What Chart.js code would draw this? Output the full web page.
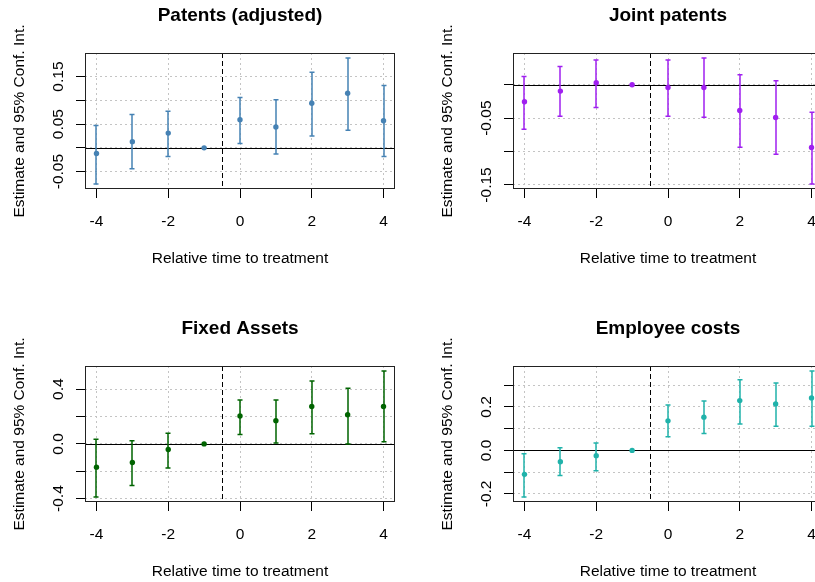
<!DOCTYPE html>
<html>
<head>
<meta charset="utf-8">
<script src="https://cdn.jsdelivr.net/npm/chart.js@4.4.1/dist/chart.umd.min.js"></script>
<style>
  html, body { margin: 0; padding: 0; background: #fff; }
  #wrap { position: relative; width: 815px; height: 582px; overflow: hidden; }
  #wrap canvas { position: absolute; }
</style>
</head>
<body>
<div id="wrap">
  <canvas id="c1" width="428" height="313" style="left:0;top:0"></canvas>
  <canvas id="c2" width="428" height="313" style="left:428px;top:0"></canvas>
  <canvas id="c3" width="428" height="313" style="left:0;top:313px"></canvas>
  <canvas id="c4" width="428" height="313" style="left:428px;top:313px"></canvas>
</div>
<script>
// relative time to treatment
var relTime = [-4, -3, -2, -1, 0, 1, 2, 3, 4];
var xTicks = [-4, -2, 0, 2, 4];
var xTickLabels = ['-4', '-2', '0', '2', '4'];

// Patents (adjusted)
var patEst = [-0.012, 0.013, 0.031, 0, 0.059, 0.044, 0.094, 0.115, 0.057];
var patLo  = [-0.076, -0.044, -0.018, 0, 0.009, -0.013, 0.025, 0.037, -0.018];
var patHi  = [0.047, 0.070, 0.077, 0, 0.106, 0.101, 0.159, 0.189, 0.131];
var patTicks = [-0.05, 0, 0.05, 0.10, 0.15];
var patTickLabels = ['-0.05', '', '0.05', '', '0.15'];

// Joint patents
var jointEst = [-0.0255, -0.0095, 0.003, 0, -0.004, -0.004, -0.0385, -0.049, -0.094];
var jointLo  = [-0.0665, -0.047, -0.034, 0, -0.047, -0.0485, -0.0935, -0.104, -0.1485];
var jointHi  = [0.0125, 0.0275, 0.037, 0, 0.037, 0.040, 0.015, 0.006, -0.041];
var jointTicks = [-0.15, -0.10, -0.05, 0];
var jointTickLabels = ['-0.15', '', '-0.05', ''];

// Fixed Assets
var fixEst = [-0.170, -0.136, -0.041, 0, 0.204, 0.170, 0.274, 0.213, 0.274];
var fixLo  = [-0.388, -0.305, -0.177, 0, 0.068, 0.007, 0.075, 0.0, 0.015];
var fixHi  = [0.034, 0.024, 0.078, 0, 0.322, 0.322, 0.461, 0.407, 0.533];
var fixTicks = [-0.4, -0.2, 0, 0.2, 0.4];
var fixTickLabels = ['-0.4', '', '0.0', '', '0.4'];

// Employee costs
var empEst = [-0.110, -0.052, -0.024, 0, 0.136, 0.153, 0.229, 0.214, 0.241];
var empLo  = [-0.214, -0.115, -0.093, 0, 0.063, 0.078, 0.122, 0.111, 0.111];
var empHi  = [-0.015, 0.012, 0.034, 0, 0.209, 0.227, 0.325, 0.310, 0.365];
var empTicks = [-0.2, -0.1, 0, 0.1, 0.2, 0.3];
var empTickLabels = ['-0.2', '', '0.0', '', '0.2', ''];

var FONT = "'Liberation Sans', Arial, sans-serif";
var xLab = 'Relative time to treatment';
var yLab = 'Estimate and 95% Conf. Int.';

// r-style axis range, 4% on each side
function rRange(lo, hi) {
    var mn = Math.min.apply(null, lo), mx = Math.max.apply(null, hi);
    var pad = (mx - mn) * 0.04;
    return [mn - pad, mx + pad];
}

function rPlot(p) {
    return {
        id: 'rPlot',
        beforeDatasetsDraw: function (chart) {
            var ctx = chart.ctx, a = chart.chartArea;
            var x = chart.scales.x, y = chart.scales.y;
            ctx.save();
            ctx.beginPath();
            ctx.rect(a.left, a.top, a.right - a.left, a.bottom - a.top);
            ctx.clip();
            // h = 0
            ctx.strokeStyle = '#000';
            ctx.lineWidth = 1;
            var y0 = Math.round(y.getPixelForValue(0)) + 0.5;
            ctx.beginPath();
            ctx.moveTo(a.left, y0);
            ctx.lineTo(a.right, y0);
            ctx.stroke();
            // v = -0.5
            var xv = Math.round(x.getPixelForValue(-0.5)) + 0.5;
            ctx.setLineDash([5, 3]);
            ctx.beginPath();
            ctx.moveTo(xv, a.top);
            ctx.lineTo(xv, a.bottom);
            ctx.stroke();
            ctx.setLineDash([]);
            // error bars
            ctx.strokeStyle = p.color;
            ctx.lineWidth = 1.5;
            relTime.forEach(function (t, i) {
                if (p.lo[i] === p.hi[i]) return;
                var px = Math.round(x.getPixelForValue(t));
                var yl = y.getPixelForValue(p.lo[i]);
                var yh = y.getPixelForValue(p.hi[i]);
                ctx.beginPath();
                ctx.moveTo(px, yl); ctx.lineTo(px, yh);
                ctx.moveTo(px - 2.5, yl); ctx.lineTo(px + 2.5, yl);
                ctx.moveTo(px - 2.5, yh); ctx.lineTo(px + 2.5, yh);
                ctx.stroke();
            });
            ctx.restore();
        },
        afterDraw: function (chart) {
            var ctx = chart.ctx, a = chart.chartArea;
            var y = chart.scales.y;
            ctx.save();
            // box
            ctx.strokeStyle = '#222';
            ctx.lineWidth = 1;
            ctx.strokeRect(a.left + 0.5, a.top + 0.5, a.right - a.left - 1, a.bottom - a.top - 1);
            ctx.fillStyle = '#000';
            // title
            ctx.font = 'bold 19px ' + FONT;
            ctx.textAlign = 'center';
            ctx.textBaseline = 'alphabetic';
            var cx = (a.left + a.right) / 2, cy = (a.top + a.bottom) / 2;
            ctx.fillText(p.title, cx, a.top - 32);
            // x label
            ctx.font = '15.5px ' + FONT;
            ctx.fillText(xLab, cx, a.bottom + 74);
            // y label
            ctx.save();
            ctx.translate(a.left - 61, cy);
            ctx.rotate(-Math.PI / 2);
            ctx.fillText(yLab, 0, 0);
            ctx.restore();
            // y tick labels, parallel to the axis
            p.ticks.forEach(function (v, i) {
                if (!p.tickLabels[i]) return;
                ctx.save();
                ctx.translate(a.left - 22, y.getPixelForValue(v));
                ctx.rotate(-Math.PI / 2);
                ctx.fillText(p.tickLabels[i], 0, 0);
                ctx.restore();
            });
            ctx.restore();
        }
    };
}

function panel(id, p) {
    var rng = rRange(p.lo, p.hi);
    var pts = relTime.map(function (t, i) { return { x: t, y: p.est[i] }; });
    new Chart(document.getElementById(id), {
        type: 'scatter',
        data: {
            datasets: [{
                data: pts,
                backgroundColor: p.color,
                borderColor: p.color,
                pointRadius: 2.7,
                pointHoverRadius: 2.7,
                borderWidth: 0
            }]
        },
        options: {
            responsive: false,
            animation: false,
            events: [],
            layout: { padding: { top: 53, right: 33, left: 0, bottom: 0 } },
            plugins: { legend: { display: false }, title: { display: false }, tooltip: { enabled: false } },
            scales: {
                x: {
                    type: 'linear',
                    min: -4.32,
                    max: 4.32,
                    afterBuildTicks: function (s) { s.ticks = xTicks.map(function (v) { return { value: v }; }); },
                    afterFit: function (s) { s.height = 124; },
                    ticks: {
                        autoSkip: false,
                        maxRotation: 0,
                        padding: 14,
                        color: '#000',
                        font: { family: FONT, size: 15.5 },
                        callback: function (v) { return xTickLabels[xTicks.indexOf(v)]; }
                    },
                    grid: { color: '#c4c4c4', tickColor: '#000', tickLength: 9, lineWidth: 1 },
                    border: { display: false, dash: [2, 3] }
                },
                y: {
                    type: 'linear',
                    min: rng[0],
                    max: rng[1],
                    afterBuildTicks: function (s) { s.ticks = p.ticks.map(function (v) { return { value: v }; }); },
                    afterFit: function (s) { s.width = 85; },
                    ticks: { autoSkip: false, callback: function () { return ''; } },
                    grid: { color: '#c4c4c4', tickColor: '#000', tickLength: 9, lineWidth: 1 },
                    border: { display: false, dash: [2, 3] }
                }
            }
        },
        plugins: [rPlot(p)]
    });
}

panel('c1', { title: 'Patents (adjusted)', est: patEst, lo: patLo, hi: patHi, ticks: patTicks, tickLabels: patTickLabels, color: '#4682B4' });
panel('c2', { title: 'Joint patents', est: jointEst, lo: jointLo, hi: jointHi, ticks: jointTicks, tickLabels: jointTickLabels, color: '#A020F0' });
panel('c3', { title: 'Fixed Assets', est: fixEst, lo: fixLo, hi: fixHi, ticks: fixTicks, tickLabels: fixTickLabels, color: '#006400' });
panel('c4', { title: 'Employee costs', est: empEst, lo: empLo, hi: empHi, ticks: empTicks, tickLabels: empTickLabels, color: '#20B2AA' });
</script>
</body>
</html>
